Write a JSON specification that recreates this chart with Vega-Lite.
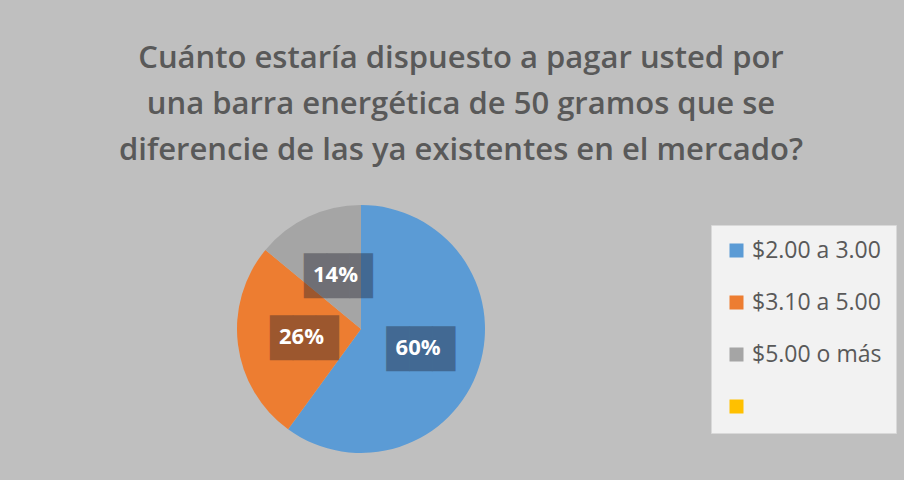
{
  "$schema": "https://vega.github.io/schema/vega-lite/v6.json",
  "width": 248,
  "height": 248,
  "autosize": {"type": "none"},
  "padding": {"left": 237, "top": 205, "right": 419, "bottom": 27},
  "background": "#bfbfbf",
  "title": {
    "text": ["Cuánto estaría dispuesto a pagar usted por", "una barra energética de 50 gramos que se", "diferencie de las ya existentes en el mercado?"],
    "font": "Open Sans",
    "fontSize": 31,
    "fontWeight": 600,
    "color": "#595959",
    "lineHeight": 46,
    "anchor": "middle",
    "frame": "group",
    "dx": 100,
    "offset": 38
  },
  "config": {
    "view": {"stroke": null},
    "legend": {
      "orient": "none",
      "legendX": 474,
      "legendY": 20,
      "padding": 14,
      "fillColor": "#f2f2f2",
      "strokeColor": "#d9d9d9",
      "symbolType": "square",
      "symbolSize": 196,
      "symbolStrokeWidth": 0,
      "labelFont": "Open Sans",
      "labelFontSize": 23,
      "labelColor": "#595959",
      "labelOffset": 4,
      "rowPadding": 28,
      "labelLimit": 300
    }
  },
  "data": {
    "values": [
      {"category": "$2.00 a 3.00", "value": 0.60},
      {"category": "$3.10 a 5.00", "value": 0.26},
      {"category": "$5.00 o más", "value": 0.14},
      {"category": " ", "value": 0}
    ]
  },
  "encoding": {
    "theta": {"field": "value", "type": "quantitative", "stack": true},
    "order": {"field": "category", "type": "nominal", "sort": "ascending"}
  },
  "layer": [
    {
      "mark": {"type": "arc", "stroke": null},
      "encoding": {
        "color": {
          "field": "category",
          "type": "nominal",
          "title": null,
          "scale": {
            "domain": ["$2.00 a 3.00", "$3.10 a 5.00", "$5.00 o más", " "],
            "range": ["#5b9bd5", "#ed7d31", "#a5a5a5", "#ffc000"]
          }
        }
      }
    },
    {
      "transform": [{"filter": "datum.value > 0"}],
      "mark": {"type": "text", "text": "███", "font": "DejaVu Sans Mono", "fontSize": 38, "radius": 60, "dx": 3, "dy": 3, "baseline": "middle", "align": "center", "color": "#1a1a2a", "opacity": 0.38}
    },
    {
      "transform": [{"filter": "datum.value > 0"}],
      "mark": {"type": "text", "radius": 60, "font": "Open Sans", "fontSize": 22, "fontWeight": "bold", "color": "white", "baseline": "middle", "align": "center"},
      "encoding": {
        "text": {"field": "value", "type": "quantitative", "format": ".0%"}
      }
    }
  ]
}
